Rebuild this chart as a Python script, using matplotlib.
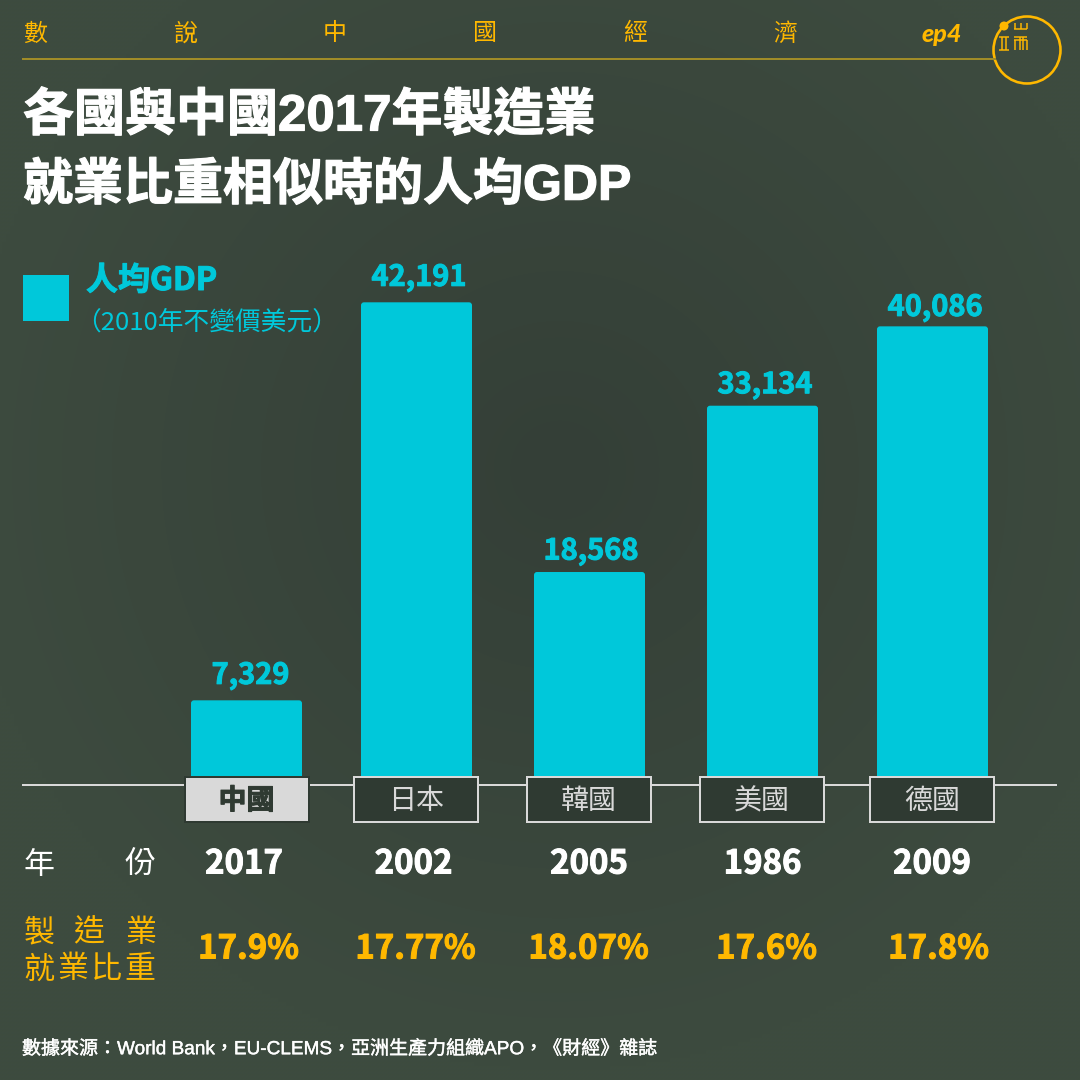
"""
Per-capita GDP when each country had a manufacturing employment share similar to China in 2017.
Layout is worked out in pixels of the 1080x1080 canvas.
"""
import numpy as np
import matplotlib
matplotlib.use("Agg")
import matplotlib.pyplot as plt
import matplotlib.patheffects as pe
from matplotlib.patches import FancyBboxPatch, Rectangle, Circle

countries = ["中國", "日本", "韓國", "美國", "德國"]
years = [2017, 2002, 2005, 1986, 2009]
gdp = [7329, 42191, 18568, 33134, 40086]
shares = [17.9, 17.77, 18.07, 17.6, 17.8]
header_chars = ["數", "說", "中", "國", "經", "濟"]
title_lines = ["各國與中國2017年製造業", "就業比重相似時的人均GDP"]
source = "數據來源：World Bank，EU-CLEMS，亞洲生產力組織APO，《財經》雜誌"

CJK = ["Noto Sans CJK TC", "DejaVu Sans"]
LATIN = ["Liberation Sans", "Noto Sans CJK TC"]
plt.rcParams["font.family"] = CJK

CYAN = "#00c8da"
GOLD = "#ffb800"
DARK = "#2f3a32"
LIGHT = "#d9d9d9"

PX = 0.72                # 1 px in points at dpi 100
BASE_Y = 784             # pixel row of value 0
PX_PER_UNIT = 0.011417

# pixel positions of each column
bar_x = [246.5, 416.5, 589.5, 762.5, 932.5]
label_x = [250.5, 419, 591, 765, 935]
label_dy = [25, 25, 21, 21, 19]
box_x = [246.5, 416, 589, 762, 932]
year_x = [244, 413.5, 589, 762.5, 932]
share_x = [248.5, 415.5, 588.5, 766.5, 938.5]
BAR_W = 111


def px(v):
    return v * PX


def heavy(color, w=1.0):
    # the installed bold is lighter than the original's, thicken it a little
    return [pe.withStroke(linewidth=px(w), foreground=color)]


fig = plt.figure(figsize=(10.8, 10.8), dpi=100)

# background: slightly darker towards the centre
ax_bg = fig.add_axes([0, 0, 1, 1], zorder=0)
ax_bg.axis("off")
yy, xx = np.mgrid[0:1080:270j, 0:1080:270j]
r = np.clip(np.hypot(xx - 560, yy - 470) / 600, 0, 1)
c0 = np.array([0x34, 0x3f, 0x37]) / 255
c1 = np.array([0x3d, 0x4b, 0x3f]) / 255
ax_bg.imshow(c0 + (c1 - c0) * r[..., None], extent=[0, 1080, 1080, 0], aspect="auto",
             interpolation="bilinear")

# bars, x in pixels, y in dollars
ax = fig.add_axes([0, 0, 1, 1], zorder=1)
ax.axis("off")
ax.set_facecolor("none")
ax.set_xlim(0, 1080)
ax.set_ylim((BASE_Y - 1080) / PX_PER_UNIT, BASE_Y / PX_PER_UNIT)
for x, v, lx, dy in zip(bar_x, gdp, label_x, label_dy):
    ax.add_patch(FancyBboxPatch((x - BAR_W / 2, 0), BAR_W, v,
                                boxstyle="round,pad=0,rounding_size=3",
                                mutation_aspect=1 / PX_PER_UNIT,
                                fc=CYAN, ec="none"))
    ax.annotate(f"{v:,}", (lx, v), xytext=(0, px(dy)), textcoords="offset points",
                ha="center", va="center", color=CYAN, fontsize=px(29), weight="bold",
                path_effects=heavy(CYAN))

# everything else in canvas pixels
top = fig.add_axes([0, 0, 1, 1], zorder=2)
top.axis("off")
top.set_facecolor("none")
top.set_xlim(0, 1080)
top.set_ylim(1080, 0)

# header
for i, ch in enumerate(header_chars):
    top.text(23 + 150 * i, 34, ch, ha="left", va="center", color=GOLD, fontsize=px(24))
top.plot([23, 995], [59, 59], color="#a08c28", lw=px(2))
top.text(922, 34.5, "ep4", ha="left", va="center", color=GOLD, fontsize=px(25),
         family="Lato", weight="black", style="italic")

# logo
top.add_patch(Circle((1027, 50), 33.5, fc="none", ec=GOLD, lw=px(2.6)))
top.add_patch(Circle((1004, 26), 4.5, fc=GOLD, ec="none"))
logo_segs = [
    ((1014, 1027), (29, 29)), ((1015, 1015), (23, 29)), ((1020.5, 1020.5), (23, 29)), ((1026.5, 1026.5), (23, 29)),
    ((999, 1009), (37, 37)), ((999, 1009), (50, 50)), ((1002, 1002), (37, 50)), ((1006, 1006), (37, 50)),
    ((1014, 1027), (36.5, 36.5)), ((1014, 1027), (40, 40)),
    ((1015, 1015), (40, 50)), ((1019.5, 1019.5), (36.5, 50)), ((1023, 1023), (36.5, 50)), ((1026.5, 1026.5), (40, 50)),
]
for sx, sy in logo_segs:
    top.plot(sx, sy, color=GOLD, lw=px(1.5), solid_capstyle="butt")

# title
for y, line, size in zip([117, 186], title_lines, [51, 50]):
    top.text(23, y, line, ha="left", va="center", color="white", fontsize=px(size),
             family=LATIN, weight="bold", path_effects=heavy("white", 1.2))

# legend
top.add_patch(Rectangle((23, 275), 46, 46, fc=CYAN, ec="none"))
top.text(86, 281, "人均GDP", ha="left", va="center", color=CYAN, fontsize=px(32), weight="bold",
         path_effects=heavy(CYAN))
top.text(75, 323, "（2010年不變價美元）", ha="left", va="center", color=CYAN, fontsize=px(25.7),
         weight="light")

# baseline and country boxes
top.plot([23, 1056], [785, 785], color=LIGHT, lw=px(2))
for i, (x, name) in enumerate(zip(box_x, countries)):
    fc, ec, tc = (LIGHT, DARK, DARK) if i == 0 else (DARK, LIGHT, LIGHT)
    t = top.text(x, 801, name, ha="center", va="center", color=tc, fontsize=px(28),
                 weight="bold" if i == 0 else "light", zorder=4)
    if i == 0:
        t.set_path_effects(heavy(tc))
    top.add_patch(Rectangle((x - 62, 777), 124, 45, fc=fc, ec=ec, lw=px(2), zorder=3))

# row labels
for x, ch in zip([39, 140], "年份"):
    top.text(x, 865, ch, ha="center", va="center", color="white", fontsize=px(31), weight="light")
for x, ch in zip([39, 89, 141], "製造業"):
    top.text(x, 933, ch, ha="center", va="center", color=GOLD, fontsize=px(31), weight="light")
for x, ch in zip([39, 73, 106, 140], "就業比重"):
    top.text(x, 970, ch, ha="center", va="center", color=GOLD, fontsize=px(31), weight="light")

for x, yr in zip(year_x, years):
    top.text(x, 864, str(yr), ha="center", va="center", color="white", fontsize=px(33), weight="bold",
             path_effects=heavy("white"))
for x, s in zip(share_x, shares):
    top.text(x, 949, f"{s:g}%", ha="center", va="center", color=GOLD, fontsize=px(33), weight="bold",
             path_effects=heavy(GOLD))

top.text(22, 1049, source, ha="left", va="center", color="white", fontsize=px(19), family=LATIN,
         path_effects=heavy("white", 0.4))

fig.savefig("out.png", dpi=100)
